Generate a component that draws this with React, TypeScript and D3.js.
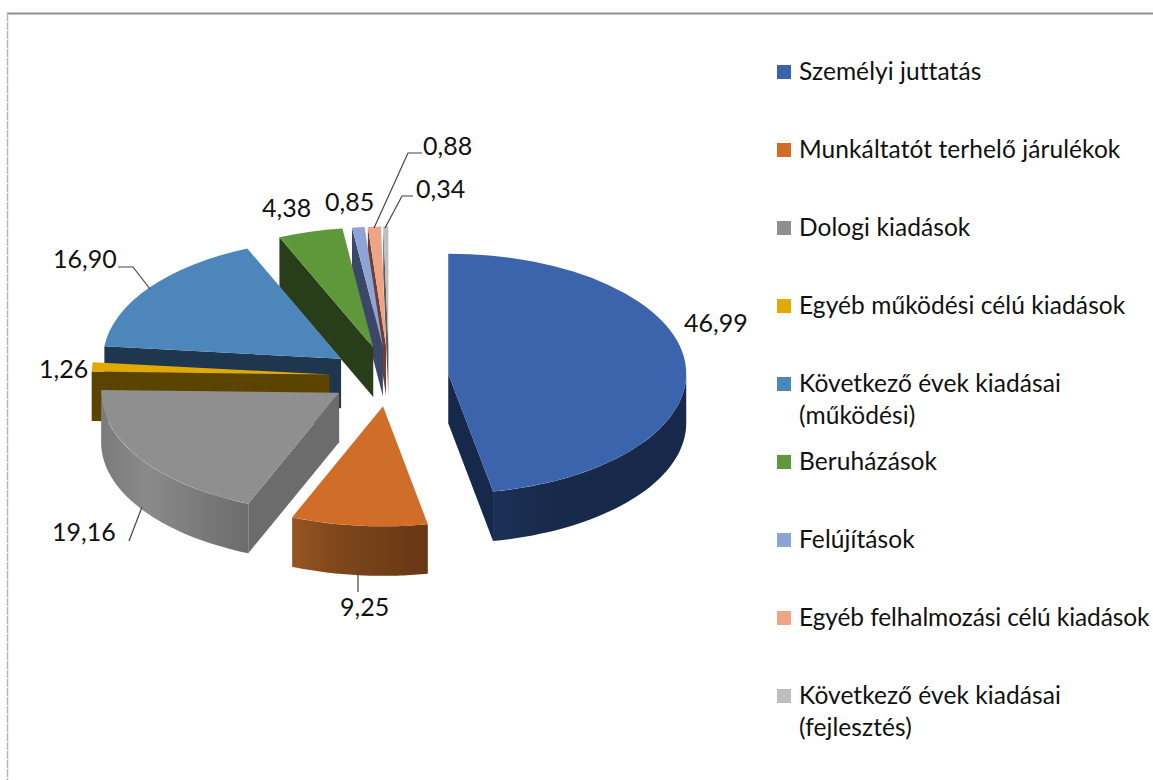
import React from "react";
import * as d3 from "d3";

const categories = ["Személyi juttatás","Munkáltatót terhelő járulékok","Dologi kiadások","Egyéb működési célú kiadások","Következő évek kiadásai (működési)","Beruházások","Felújítások","Egyéb felhalmozási célú kiadások","Következő évek kiadásai (fejlesztés)"];
const legendLines = [["Személyi juttatás"],["Munkáltatót terhelő járulékok"],["Dologi kiadások"],["Egyéb működési célú kiadások"],["Következő évek kiadásai","(működési)"],["Beruházások"],["Felújítások"],["Egyéb felhalmozási célú kiadások"],["Következő évek kiadásai","(fejlesztés)"]];
const values = [46.99,9.25,19.16,1.26,16.90,4.38,0.85,0.88,0.34];
const valueLabels = ["46,99","9,25","19,16","1,26","16,90","4,38","0,85","0,88","0,34"];
const topColors = ["#3b64ad","#d06d29","#8f8f8f","#e2a900","#4c86bb","#5f983b","#8ea4d6","#eea486","#bfbfbf"];
const faceColors = ["#17294a","#5c3315","#6c6c6c","#5b4300","#1f364f","#283d1a","#3b4668","#6b4137","#5a5a5a"];
const wallStops = [["#1b3056","#182a4b","#17284a"],["#985522","#7f471b","#673715"],["#7b7b7b","#8a8a8a","#6c6c6c"],["#5b4300","#5b4300","#5b4300"],["#1f364f","#1f364f","#1f364f"],["#283d1a","#283d1a","#283d1a"],["#3b4668","#3b4668","#3b4668"],["#6b4137","#6b4137","#6b4137"],["#5a5a5a","#5a5a5a","#5a5a5a"]];
const labelPos: [number, number][] = [[684,332],[340,616],[52,541],[39,378],[53,268],[262,217],[325,211],[423,155],[416,198]];
const leaders: [number, number][][] = [[],[[358,573],[358,592]],[[129,541],[142,507]],[],[[118,267],[133,267],[150,289]],[],[],[[422,153],[408,153],[374,228]],[[413,196],[402,196],[385,228]]];
const drawOrder = [8,7,6,5,4,3,2,1,0];

const CX = 389, CY = 376.5, RX = 238, RY = 120, DEPTH = 49.5, EXPLODE = 0.25;
const FONT = "Lato, 'Open Sans', sans-serif";

const pieGen = d3.pie<number>().sort(null).value((d) => d);
const arcs = pieGen(values);
const tau = 2 * Math.PI;
const pt = (a: number, ax: number, ay: number, r = 1): [number, number] => [ax + RX * r * Math.sin(a), ay - RY * r * Math.cos(a)];
const lineGen = d3.line();
const topArc = d3.arc<any>().innerRadius(0).outerRadius(RX);

export default function App() {
  return (
    <svg width={1153} height={780} viewBox="0 0 1153 780" style={{ position: "absolute", left: 0, top: 0, background: "#fff" }}>
      <defs>
        {wallStops.map((s, i) => (
          <linearGradient key={i} id={`wall${i}`} x1="0" x2="1" y1="0" y2="0">
            <stop offset="0" stopColor={s[0]} />
            <stop offset="0.32" stopColor={s[1]} />
            <stop offset="1" stopColor={s[2]} />
          </linearGradient>
        ))}
      </defs>
      <line x1={7} x2={1153} y1={13.5} y2={13.5} stroke="#8f8f8f" strokeWidth={2} />
      <line x1={7.5} x2={7.5} y1={13} y2={780} stroke="#b8b8b8" strokeWidth={1.5} strokeDasharray="8 1" />
      {drawOrder.map((i) => {
        const d = arcs[i];
        const mid = (d.startAngle + d.endAngle) / 2;
        const [ax, ay] = pt(mid, CX, CY, EXPLODE);
        const wallFrom = Math.max(d.startAngle, Math.PI / 2);
        const wallTo = Math.min(d.endAngle, (3 * Math.PI) / 2);
        const hasWall = wallTo > wallFrom;
        const steps = d3.range(0, 41).map((k) => wallFrom + ((wallTo - wallFrom) * k) / 40);
        const upper = steps.map((a) => pt(a, ax, ay));
        const lower = steps.map((a) => pt(a, ax, ay + DEPTH)).reverse();
        const face = (a: number) => {
          const o = pt(a, ax, ay);
          return lineGen([[ax, ay], o, [o[0], o[1] + DEPTH], [ax, ay + DEPTH]])! + "Z";
        };
        return (
          <g key={i}>
            {d.startAngle > Math.PI && d.startAngle < tau && (
              <path d={face(d.startAngle)} fill={faceColors[i]} />
            )}
            {d.endAngle < Math.PI && (
              <path d={face(d.endAngle)} fill={faceColors[i]} />
            )}
            {hasWall && (
              <path d={lineGen([...upper, ...lower])! + "Z"} fill={`url(#wall${i})`} />
            )}
            <g transform={`translate(${ax},${ay}) scale(1,${RY / RX})`}>
              <path d={topArc(d)!} fill={topColors[i]} />
            </g>
          </g>
        );
      })}
      {leaders.map((l, i) =>
        l.length ? <path key={i} d={lineGen(l)!} fill="none" stroke="#444" strokeWidth={1.2} /> : null
      )}
      {valueLabels.map((t, i) => (
        <text key={i} x={labelPos[i][0]} y={labelPos[i][1]} fontFamily={FONT} fontSize={25} fill="#111">{t}</text>
      ))}
      {categories.map((c, i) => {
        const y = 72 + 78 * i;
        return (
          <g key={c}>
            <rect x={777} y={y - 7} width={14} height={14} fill={topColors[i]} />
            {legendLines[i].map((line, k) => (
              <text key={k} x={799} y={y + 8 + k * 32} fontFamily={FONT} fontSize={24.5} letterSpacing={line.length > 30 ? -0.1 : 0.08} fill="#111">{line}</text>
            ))}
          </g>
        );
      })}
    </svg>
  );
}
